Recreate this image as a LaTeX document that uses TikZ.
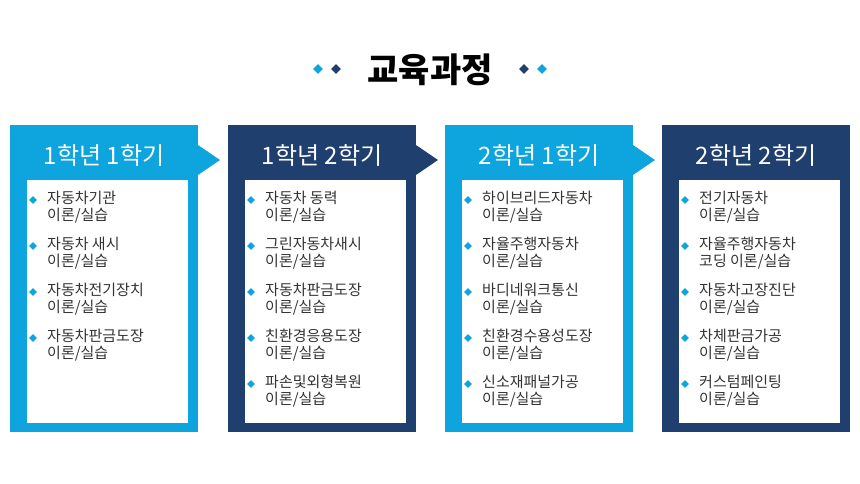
\documentclass[tikz,border=0pt]{standalone}
\usepackage{fontspec}
\setmainfont{Noto Sans CJK KR}
\usetikzlibrary{positioning,shapes.geometric}
\definecolor{sky}{HTML}{0EA5DF}
\definecolor{navy}{HTML}{1F406E}

\begin{document}
\begin{tikzpicture}[%
        x=1pt,y=-1pt,
        dia/.style={diamond,inner sep=0pt,minimum size=10pt},
        bul/.style={diamond,inner sep=0pt,minimum size=8pt,fill=sky},
        head/.style={text=white,font=\fontsize{24}{26}\selectfont},
        item/.style={anchor=north west,align=left,inner sep=0pt,
          font=\fontsize{15}{16.5}\selectfont,text=black!80}
      ]
      \useasboundingbox (0,0) rectangle (860,483);
      \node[font=\fontsize{34}{36}\selectfont\bfseries] (title) at (430,70) {교육과정};
      \node[dia,fill=sky] (d1) at (318,69) {};
      \node[dia,fill=navy] (d2) at (336,69) {};
      \node[dia,fill=navy] (d3) at (524,69) {};
      \node[dia,fill=sky] (d4) at (542,69) {};
      % panels
      \foreach \x/\c/\h [count=\i] in {10/sky/1학년 1학기,228/navy/1학년 2학기,445/sky/2학년 1학기,662/navy/2학년 2학기}{
        \fill[\c] (\x,125) rectangle ++(188,307);
        \ifnum\i<4
          \fill[\c] (\x+188,145) -- (\x+210,160) -- (\x+188,175) -- cycle;
        \fi
        \fill[white] (\x+17,180) rectangle ++(161,243);
        \node[head] (h\i) at (\x+94,155) {\h};
      }
      % items
      \foreach \x/\list in {10/{자동차기관/이론,자동차 새시/이론,자동차전기장치/이론,자동차판금도장/이론},
          228/{자동차 동력/이론,그린자동차새시/이론,자동차판금도장/이론,친환경응용도장/이론,파손및외형복원/이론},
          445/{하이브리드자동차/이론,자율주행자동차/이론,바디네워크통신/이론,친환경수용성도장/이론,신소재패널가공/이론},
          662/{전기자동차/이론,자율주행자동차/코딩 이론,자동차고장진단/이론,차체판금가공/이론,커스텀페인팅/이론}}{
        \foreach \t/\u [count=\j] in \list {
          \node[bul] (b\x-\j) at (\x+23,200+46*\j-46) {};
          \node[item] (t\x-\j) at (\x+37,191+46*\j-46) {\t\\\u/실습};
        }
      }
  \end{tikzpicture}
\end{document}
